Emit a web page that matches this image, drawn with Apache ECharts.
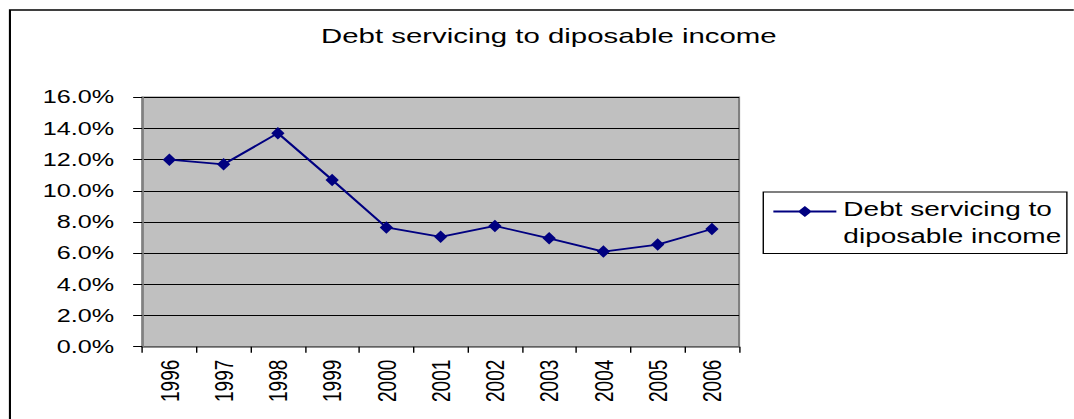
<!DOCTYPE html>
<html>
<head>
<meta charset="utf-8">
<script src="https://cdn.jsdelivr.net/npm/echarts@6/dist/echarts.min.js"></script>
<style>
  html, body { margin: 0; padding: 0; background: #fff; overflow: hidden; width: 1074px; height: 419px; }
  /* The chart is laid out on a narrower canvas and widened horizontally,
     giving the broad, stretched look of the lettering and markers. */
  #chart { width: 767px; height: 419px; transform: scaleX(1.4); transform-origin: 0 0; }
</style>
</head>
<body>
<div id="chart"></div>
<script>
// Years on the category axis
const years = ['1996', '1997', '1998', '1999', '2000', '2001', '2002', '2003', '2004', '2005', '2006'];

// Debt servicing as a share of disposable income, in percent
const debtServicing = [12.0, 11.7, 13.7, 10.7, 7.65, 7.05, 7.75, 6.95, 6.1, 6.55, 7.55];

// Value axis range and step, in percent
const yMin = 0;
const yMax = 16;
const yStep = 2;

const chartTitle = 'Debt servicing to diposable income';
const seriesName = 'Debt servicing to diposable income';
const legendLines = ['Debt servicing to', 'diposable income'];

const FONT = '"Liberation Sans", Arial, sans-serif';
const NAVY = '#000080';

// Legend icon: a line with a diamond, sitting level with the first text line
const ICON_W = 45, ICON_H = 53.4, ICON_Y = 15.5;
const legendIcon = 'path://' +
  'M0,0 L0.02,0 L0,0.02 Z ' +
  `M${ICON_W},${ICON_H} L${ICON_W - 0.02},${ICON_H} L${ICON_W},${ICON_H - 0.02} Z ` +
  `M0,${ICON_Y - 1} L${ICON_W},${ICON_Y - 1} L${ICON_W},${ICON_Y + 1} L0,${ICON_Y + 1} Z ` +
  `M${ICON_W / 2},${ICON_Y - 5.5} L${ICON_W / 2 + 5},${ICON_Y} L${ICON_W / 2},${ICON_Y + 5.5} L${ICON_W / 2 - 5},${ICON_Y} Z`;

const chart = echarts.init(document.getElementById('chart'), null, { renderer: 'svg' });

chart.setOption({
  animation: false,
  backgroundColor: '#ffffff',
  textStyle: { fontFamily: FONT },
  graphic: [{
    type: 'rect',
    shape: { x: 7.1, y: 10, width: 1000, height: 1000 },
    style: { fill: 'none', stroke: '#000', lineWidth: 1.5 },
    silent: true,
    z: -1
  }],
  title: {
    text: chartTitle,
    left: 392,
    top: 25,
    padding: 0,
    textAlign: 'center',
    textStyle: { fontSize: 21, fontWeight: 'normal', color: '#000', fontFamily: FONT }
  },
  legend: {
    left: 545.2,
    top: 192,
    orient: 'vertical',
    padding: [4, 4, 4, 7.2],
    borderColor: '#000',
    borderWidth: 1,
    selectedMode: false,
    icon: legendIcon,
    itemWidth: ICON_W,
    itemHeight: ICON_H,
    itemStyle: { color: NAVY, borderWidth: 0 },
    formatter: () => legendLines.join('\n'),
    textStyle: { fontSize: 20, lineHeight: 26.7, color: '#000', fontFamily: FONT },
    data: [seriesName]
  },
  grid: {
    left: 101.6,
    top: 97.3,
    width: 426.3,
    height: 249.4,
    show: true,
    backgroundColor: '#c0c0c0',
    borderColor: '#808080',
    borderWidth: 1.5
  },
  xAxis: {
    type: 'category',
    data: years,
    boundaryGap: true,
    axisLine: { lineStyle: { color: '#808080', width: 1.5 } },
    axisTick: { show: true, length: 6, interval: 0, lineStyle: { color: '#000', width: 1 } },
    axisLabel: {
      rotate: 90,
      interval: 0,
      margin: 13,
      fontSize: 19,
      color: '#000',
      fontFamily: FONT,
      padding: [0, 0, 9, 0]
    },
    splitLine: { show: false }
  },
  yAxis: {
    type: 'value',
    min: yMin,
    max: yMax,
    interval: yStep,
    axisLine: { show: true, lineStyle: { color: '#808080', width: 1.5 } },
    axisTick: { show: true, length: 6.5, lineStyle: { color: '#000', width: 1 } },
    axisLabel: {
      margin: 20,
      fontSize: 18,
      color: '#000',
      fontFamily: FONT,
      formatter: v => v.toFixed(1) + '%'
    },
    splitLine: { show: true, lineStyle: { color: '#000', width: 1 } }
  },
  series: [{
    name: seriesName,
    type: 'line',
    data: debtServicing,
    symbol: 'diamond',
    symbolSize: [9.5, 12.5],
    lineStyle: { color: NAVY, width: 1.8 },
    itemStyle: { color: NAVY },
    emphasis: { disabled: true }
  }]
});
</script>
</body>
</html>
